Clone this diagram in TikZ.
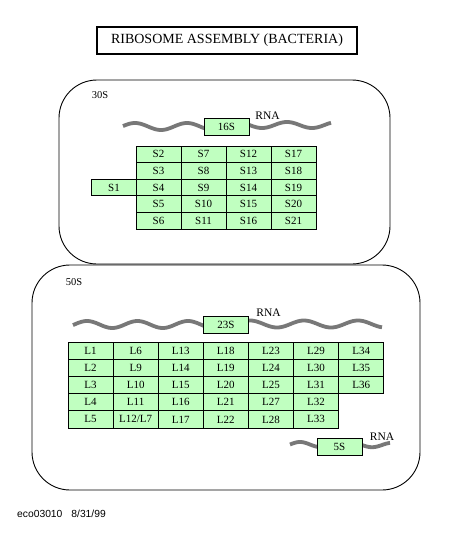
\documentclass[tikz,border=0pt]{standalone}
\usepackage{fontspec}
\setmainfont{Liberation Serif}
\newfontfamily\footfont{Liberation Sans}
\definecolor{cellgreen}{RGB}{192,255,192}
\definecolor{wavegray}{RGB}{120,120,120}
\begin{document}
\begin{tikzpicture}[x=1pt,y=-1pt,
  cell/.style={draw=black, line width=1pt, fill=cellgreen, minimum width=45pt, minimum height=16.6pt, inner sep=0pt, font=\fontsize{11}{12}\selectfont},
  lcell/.style={cell, minimum width=45.1pt, minimum height=17.2pt},
  rnabox/.style={cell, minimum height=17pt},
  unitbox/.style={draw=black, line width=0.9pt, rounded corners=38pt, inner sep=0pt},
  wave/.style={line width=3.8pt, wavegray},
  lab/.style={inner sep=0pt, font=\fontsize{10.5}{12}\selectfont},
  rnalab/.style={inner sep=0pt, font=\fontsize{11.5}{13}\selectfont}]
\useasboundingbox[fill=white] (0,0) rectangle (453,533);

% title
\node[draw=black, line width=2pt, minimum width=260pt, minimum height=27pt, inner sep=0pt,
      font=\fontsize{14}{16}\selectfont] (title) at (227,40.5) {RIBOSOME ASSEMBLY (BACTERIA)};

% subunit outlines
\node[unitbox, minimum width=331pt, minimum height=184pt] (box30) at (224.5,172) {};
\node[unitbox, minimum width=388pt, minimum height=225pt] (box50) at (226,377.5) {};

\node[lab] (lab30) at (100,95) {30S};
\node[lab] (lab50) at (74,282) {50S};

% 16S RNA
\draw[wave] plot[domain=123:206, samples=60, smooth] (\x,{126.5-3.5*cos(6.923*(\x-135))});
\draw[wave] plot[domain=247:331, samples=60, smooth] (\x,{125-3*cos(7.2*(\x-287))});
\node[rnabox] (r16) at (226.5,126.5) {16S};
\node[rnalab] (rna16) at (267.5,116) {RNA};

% S proteins
\foreach \i in {0,...,3}{
  \foreach \j in {0,...,4}{
    \pgfmathtruncatemacro{\n}{2+5*\i+\j}
    \node[cell] (s\n) at ({158.5+45*\i},{154.3+16.6*\j}) {S\n};
  }
}
\node[cell] (s1) at (114,187.5) {S1};

% 23S RNA
\draw[wave] plot[domain=73:205, samples=80, smooth] (\x,{324.5-3.5*cos(7.129*(\x-87))});
\draw[wave] plot[domain=247:382, samples=80, smooth] (\x,{324+3.5*cos(6.667*(\x-277))});
\node[rnabox] (r23) at (226,324.5) {23S};
\node[rnalab] (rna23) at (268.5,312.7) {RNA};

% L proteins
\foreach \c/\lst in {0/{L1,L2,L3,L4,L5},1/{L6,L9,L10,L11,L12/L7},2/{L13,L14,L15,L16,L17},3/{L18,L19,L20,L21,L22},4/{L23,L24,L25,L27,L28},5/{L29,L30,L31,L32,L33},6/{L34,L35,L36}}{
  \foreach \nm [count=\r from 0] in \lst {
    \node[lcell] (l-\c-\r) at ({90.55+45.1*\c},{350.6+17.2*\r}) {\nm};
  }
}

% 5S RNA
\draw[wave] plot[domain=290:319, samples=30, smooth] (\x,{444.5-2.5*sin(9*(\x-290))});
\draw[wave] plot[domain=360:390, samples=30, smooth] (\x,{445+2.2*sin(9*(\x-362))});
\node[rnabox] (r5) at (339.5,446.5) {5S};
\node[rnalab] (rna5) at (382,436.7) {RNA};

% footer
\node[inner sep=0pt, anchor=west, font=\footfont\fontsize{10.3}{12}\selectfont] (footer) at (17,514) {eco03010\hspace{9pt}8/31/99};
\end{tikzpicture}
\end{document}
